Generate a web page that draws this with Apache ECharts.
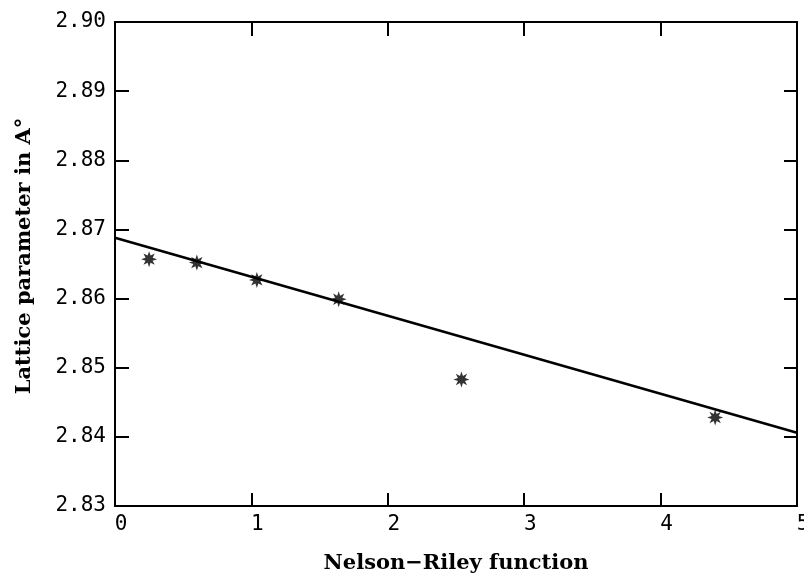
<!DOCTYPE html>
<html>
<head>
<meta charset="utf-8">
<title>Lattice parameter vs Nelson-Riley function</title>
<script src="https://cdn.jsdelivr.net/npm/echarts@6/dist/echarts.min.js"></script>
<style>
  html, body { margin: 0; padding: 0; background: #fff; }
  #chart { width: 804px; height: 580px; }
</style>
</head>
<body>
<div id="chart"></div>
<script>
// Measured points: Nelson-Riley function value and lattice parameter (Å)
var nelsonRiley = [0.25, 0.60, 1.04, 1.64, 2.54, 4.40];
var latticeParam = [2.8657, 2.8652, 2.8627, 2.8599, 2.8483, 2.8428];

// Extrapolation line, given by its two end points
var fitX = [0, 5];
var fitY = [2.8688, 2.8406];

// Axis ranges and tick steps
var xTicks = [0, 1, 2, 3, 4, 5];
var yTicks = [2.83, 2.84, 2.85, 2.86, 2.87, 2.88, 2.89, 2.90];

var points = nelsonRiley.map(function (x, i) { return [x, latticeParam[i]]; });
var fitLine = fitX.map(function (x, i) { return [x, fitY[i]]; });

// Eight-armed asterisk used as the point marker
function asteriskPath(arms, outer, inner) {
  var d = '';
  for (var k = 0; k < arms * 2; k++) {
    var r = (k % 2 === 0) ? outer : inner;
    var a = Math.PI * k / arms - Math.PI / 2;
    var px = (r * Math.cos(a)).toFixed(3);
    var py = (r * Math.sin(a)).toFixed(3);
    d += (k === 0 ? 'M' : 'L') + px + ' ' + py + ' ';
  }
  return 'path://' + d + 'Z';
}

var tickFont = '"DejaVu Sans Mono", monospace';
var titleFont = '"DejaVu Serif", serif';
var axisLine = { show: true, onZero: false, lineStyle: { color: '#000', width: 2 } };

var chart = echarts.init(document.getElementById('chart'), null, { renderer: 'canvas' });
chart.setOption({
  backgroundColor: '#fff',
  animation: false,
  grid: { left: 115, right: 7, top: 22, bottom: 74, containLabel: false, outerBoundsMode: 'none' },
  xAxis: [
    {
      type: 'value', position: 'bottom',
      min: xTicks[0], max: xTicks[xTicks.length - 1], interval: 1,
      axisLine: axisLine,
      axisTick: { show: true, inside: true, length: 13, lineStyle: { color: '#000', width: 2 } },
      axisLabel: {
        show: true, margin: 8, color: '#000', fontFamily: tickFont, fontSize: 21,
        padding: [0, 0, 0, 12], showMinLabel: true, showMaxLabel: true, hideOverlap: false,
        formatter: function (v) { return String(v); }
      },
      splitLine: { show: false },
      name: 'Nelson\u2212Riley function',
      nameLocation: 'middle', nameGap: 47,
      nameTextStyle: { color: '#000', fontFamily: titleFont, fontWeight: 'bold', fontSize: 21 }
    },
    {
      type: 'value', position: 'top',
      min: xTicks[0], max: xTicks[xTicks.length - 1], interval: 1,
      axisLine: axisLine,
      axisTick: { show: true, inside: true, length: 14, lineStyle: { color: '#000', width: 2 } },
      axisLabel: { show: false },
      splitLine: { show: false }
    }
  ],
  yAxis: [
    {
      type: 'value', position: 'left',
      min: yTicks[0], max: yTicks[yTicks.length - 1], interval: 0.01,
      axisLine: axisLine,
      axisTick: { show: true, inside: true, length: 14, lineStyle: { color: '#000', width: 2 } },
      axisLabel: {
        show: true, margin: 9, color: '#000', fontFamily: tickFont, fontSize: 21,
        showMinLabel: true, showMaxLabel: true,
        formatter: function (v) { return v.toFixed(2); }
      },
      splitLine: { show: false },
      name: 'Lattice parameter in A\u00b0',
      nameLocation: 'middle', nameGap: 80, nameRotate: 90,
      nameTextStyle: { color: '#000', fontFamily: titleFont, fontWeight: 'bold', fontSize: 21, padding: [0, 0, 0, 16] }
    },
    {
      type: 'value', position: 'right',
      min: yTicks[0], max: yTicks[yTicks.length - 1], interval: 0.01,
      axisLine: axisLine,
      axisTick: { show: true, inside: true, length: 13, lineStyle: { color: '#000', width: 2 } },
      axisLabel: { show: false },
      splitLine: { show: false }
    }
  ],
  series: [
    {
      type: 'line',
      data: fitLine,
      xAxisIndex: 0, yAxisIndex: 0,
      showSymbol: false, symbol: 'none',
      lineStyle: { color: '#000', width: 2.5 },
      z: 2
    },
    {
      type: 'scatter',
      data: points,
      xAxisIndex: 0, yAxisIndex: 0,
      symbol: asteriskPath(8, 10, 4.8),
      symbolSize: 16,
      itemStyle: { color: '#000' },
      z: 3
    }
  ]
});
</script>
</body>
</html>
